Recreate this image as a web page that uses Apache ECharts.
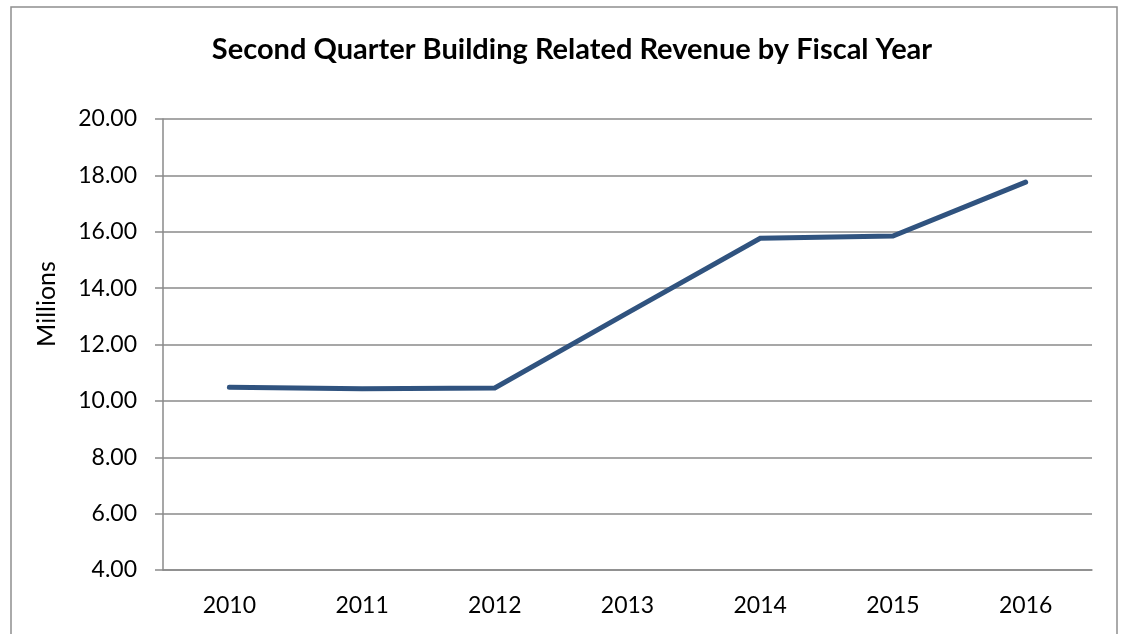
<!DOCTYPE html>
<html>
<head>
<meta charset="utf-8">
<title>Second Quarter Building Related Revenue</title>
<script src="https://cdn.jsdelivr.net/npm/echarts@6/dist/echarts.min.js"></script>
<style>
  html, body { margin: 0; padding: 0; background: #fff; }
  #main { width: 1122px; height: 634px; }
</style>
</head>
<body>
<div id="main"></div>
<script>
  // fiscal years and revenue (millions)
  const years = ['2010', '2011', '2012', '2013', '2014', '2015', '2016']
  const revenue = [10.48, 10.43, 10.46, 13.12, 15.77, 15.85, 17.76]

  const yMin = 4
  const yMax = 20
  const yStep = 2

  const gridColor = '#8a8a8a'
  const font = 'Lato, "Open Sans", sans-serif'

  let myChart = echarts.init(document.getElementById('main'))

  let option = {
    animation: false,
    title: {
      text: 'Second Quarter Building Related Revenue by Fiscal Year',
      left: 567,
      top: 30,
      textAlign: 'center',
      textStyle: {
        fontFamily: font,
        fontSize: 29,
        fontWeight: 'bold',
        color: '#000'
      }
    },
    graphic: [
      { // outer frame
        type: 'rect',
        shape: { x: 11, y: 7, width: 1106, height: 640 },
        style: { fill: 'none', stroke: '#8f8f8f', lineWidth: 1.5 },
        z: -1
      },
      {
        type: 'text',
        x: 47,
        y: 304,
        rotation: Math.PI / 2,
        style: {
          text: 'Millions',
          font: '25px ' + font,
          fill: '#000',
          textAlign: 'center',
          textVerticalAlign: 'middle'
        }
      }
    ],
    grid: {
      left: 163,
      top: 119,
      right: 30,
      bottom: 64
    },
    xAxis: {
      type: 'category',
      data: years,
      axisLine: { lineStyle: { color: gridColor, width: 1.5 } },
      axisTick: { length: 8, lineStyle: { color: gridColor, width: 1.5 } },
      axisLabel: {
        margin: 24,
        fontFamily: font,
        fontSize: 23,
        color: '#000'
      }
    },
    yAxis: {
      type: 'value',
      min: yMin,
      max: yMax,
      interval: yStep,
      axisLine: { show: true, lineStyle: { color: gridColor, width: 1.5 } },
      axisTick: { show: true, length: 8, lineStyle: { color: gridColor, width: 1.5 } },
      splitLine: { lineStyle: { color: gridColor, width: 1.5 } },
      axisLabel: {
        margin: 26,
        fontFamily: font,
        fontSize: 23,
        color: '#000',
        formatter: v => v.toFixed(2)
      }
    },
    series: [
      {
        type: 'line',
        data: revenue,
        symbol: 'none',
        lineStyle: {
          color: '#30537f',
          width: 5,
          cap: 'round',
          join: 'miter'
        }
      }
    ]
  }

  myChart.setOption(option)
</script>
</body>
</html>
